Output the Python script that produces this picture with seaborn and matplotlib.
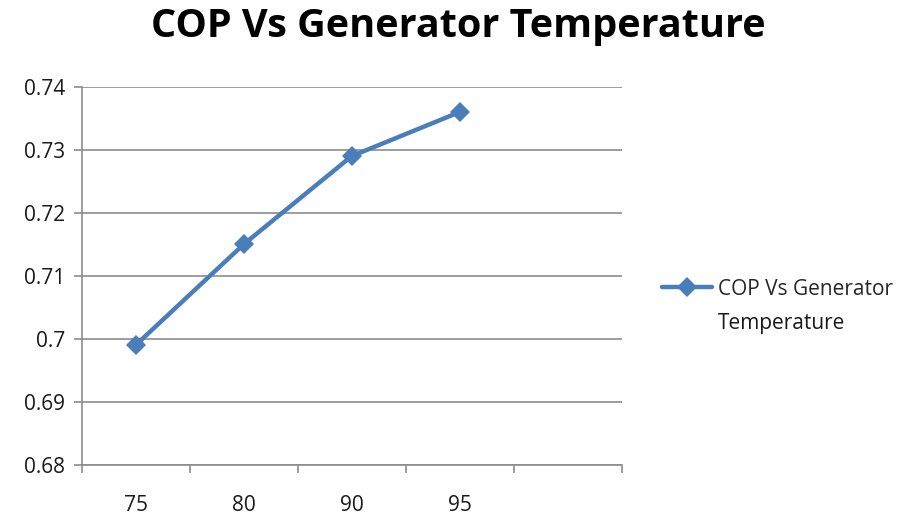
import matplotlib
matplotlib.use("Agg")
import matplotlib.pyplot as plt
import numpy as np
import pandas as pd
import seaborn as sns

temperatures = ["75", "80", "90", "95"]
cop = [0.699, 0.715, 0.729, 0.736]
y_ticks = [0.68, 0.69, 0.70, 0.71, 0.72, 0.73, 0.74]
y_labels = ["0.68", "0.69", "0.7", "0.71", "0.72", "0.73", "0.74"]
n_slots = 5
series_name = ["COP Vs Generator", "Temperature"]

sns.set_style("white")
plt.rcParams["font.family"] = ["Open Sans", "DejaVu Sans"]

df = pd.DataFrame({"pos": np.arange(len(temperatures)), "cop": cop})

fig = plt.figure(figsize=(9.17, 5.2), dpi=100)
ax = fig.add_axes([0.089, 0.106, 0.589, 0.727])

sns.lineplot(data=df, x="pos", y="cop", ax=ax, color="#4A7EBB", linewidth=3.2,
             marker="D", markersize=10, markeredgewidth=0, label=series_name[0])

ax.set_xlim(-0.5, n_slots - 0.5)
ax.set_ylim(y_ticks[0], y_ticks[-1])
ax.set_yticks(y_ticks)
ax.set_yticklabels(y_labels, fontsize=15, color="#1a1a1a")
ax.yaxis.grid(True, color="#8C8C8C", linewidth=1.2)
ax.tick_params(axis="y", length=6, width=1.2, color="#8C8C8C", direction="out", left=True, pad=6)

ax.set_xticks(np.arange(n_slots + 1) - 0.5)
ax.set_xticklabels([])
ax.tick_params(axis="x", which="major", length=6, width=1.2, color="#8C8C8C", direction="out", bottom=True)
ax.set_xticks(np.arange(len(temperatures)), minor=True)
ax.set_xticklabels(temperatures, minor=True, fontsize=15, color="#1a1a1a")
ax.tick_params(axis="x", which="minor", length=0, pad=22)

for s in ["top", "right"]:
    ax.spines[s].set_visible(False)
for s in ["left", "bottom"]:
    ax.spines[s].set_color("#8C8C8C")
    ax.spines[s].set_linewidth(1.2)

ax.set_xlabel("")
ax.set_ylabel("")
fig.text(0.5, 0.95, "COP Vs Generator Temperature", ha="center", va="center",
         fontsize=28.5, fontweight="bold", color="black")

leg = ax.legend(loc="center left", bbox_to_anchor=(0.722, 0.444), bbox_transform=fig.transFigure,
                frameon=False, fontsize=15, handlelength=2.4, handletextpad=0.3,
                borderpad=0, borderaxespad=0)

# second line of the series name, placed under the legend text
fig.canvas.draw()
bb = leg.get_texts()[0].get_window_extent().transformed(fig.transFigure.inverted())
fig.text(bb.x0, bb.y0 - 0.026, series_name[1], ha="left", va="top", fontsize=15, color="#1a1a1a")

fig.savefig("out.png", dpi=100)
